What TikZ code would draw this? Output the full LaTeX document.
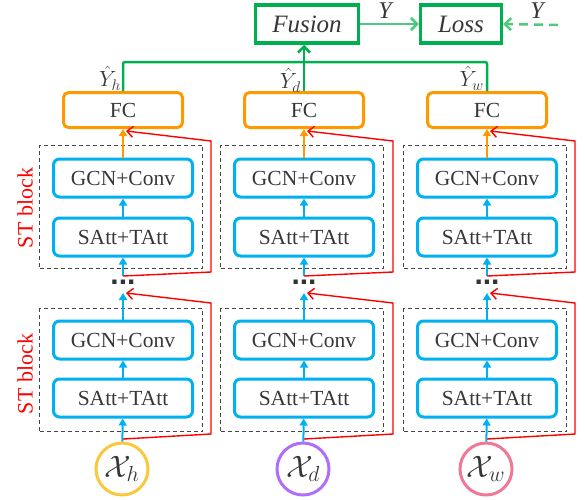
\RequirePackage{fix-cm}
\documentclass[tikz,border=0pt]{standalone}
\usepackage{fontspec}
\setmainfont{Liberation Serif}
\newfontfamily\dotfont{Liberation Sans}
\usetikzlibrary{arrows.meta}
\definecolor{cyanB}{RGB}{0,176,240}
\definecolor{orangeB}{RGB}{255,153,0}
\definecolor{greenB}{RGB}{0,176,80}
\definecolor{lgreen}{RGB}{80,200,125}
\definecolor{redB}{RGB}{255,0,0}
\definecolor{goldc}{RGB}{250,200,60}
\definecolor{purpc}{RGB}{175,110,250}
\definecolor{pinkc}{RGB}{240,120,150}
\definecolor{dashc}{RGB}{70,70,70}
\definecolor{txtc}{RGB}{55,55,55}
\begin{document}
\begin{tikzpicture}[x=1pt,y=-1pt,
  txt/.style={text=txtc, font=\fontsize{21.5}{25}\selectfont},
  blk/.style={draw=cyanB, line width=3pt, rounded corners=6pt, minimum width=139pt, minimum height=38pt, inner sep=0pt, txt},
  fcbox/.style={draw=orangeB, line width=3pt, rounded corners=5pt, minimum width=119pt, minimum height=35pt, inner sep=0pt, txt},
  gbox/.style={draw=greenB, line width=3.5pt, minimum height=38pt, inner sep=0pt, text=txtc, font=\fontsize{25}{30}\selectfont\itshape},
  stbox/.style={draw=dashc, dash pattern=on 4pt off 3pt, line width=0.9pt, minimum width=163pt, minimum height=123pt, inner sep=0pt},
  incirc/.style={circle, line width=3pt, minimum size=52pt, inner sep=0pt, text=txtc, font=\fontsize{31}{34}\selectfont},
  barrow/.style={draw=cyanB, line width=2pt, -{Triangle[length=7pt,width=8pt]}},
  oarrow/.style={draw=orangeB, line width=2pt, -{Triangle[length=7pt,width=8pt]}},
  rarrow/.style={draw=redB, line width=1.4pt, -{Straight Barb[length=6pt,width=11pt]}},
  gline/.style={draw=greenB, line width=2.5pt},
  garrow/.style={draw=greenB, line width=2.5pt, -{Straight Barb[length=6pt,width=12pt]}},
  lgarrow/.style={draw=lgreen, line width=2.5pt, -{Straight Barb[length=6pt,width=12pt]}},
  hatlab/.style={text=txtc, font=\fontsize{22}{24}\selectfont, inner sep=0pt},
  ylab/.style={text=txtc, font=\fontsize{24}{26}\selectfont\itshape, inner sep=0pt},
  stlab/.style={text=redB, rotate=90, font=\fontsize{22}{26}\selectfont},
  dotlab/.style={text=black!80, font=\fontsize{30}{30}\dotfont\bfseries, inner sep=0pt}
]
\useasboundingbox (0,0) rectangle (585,499);

% top
\node[gbox, minimum width=103pt] (fusion) at (307,24) {Fusion};
\node[gbox, minimum width=81pt] (loss) at (461,24) {Loss};

\foreach \c/\x/\rx/\col in {h/123/211/goldc, d/304/393/purpc, w/487/575/pinkc}{
  \node[stbox] (stU\c) at (\x-2,206.5) {};
  \node[stbox] (stL\c) at (\x-2,370) {};
  \node[fcbox] (fc\c) at (\x,110) {FC};
  \node[blk] (gcnU\c) at (\x,178) {GCN+Conv};
  \node[blk] (satU\c) at (\x,237) {SAtt+TAtt};
  \node[blk] (gcnL\c) at (\x,340) {GCN+Conv};
  \node[blk] (satL\c) at (\x,398) {SAtt+TAtt};
  \node[incirc, draw=\col] (in\c) at (\x-1,469) {$\mathcal{X}_{\c}$};
  \node[dotlab] (dots\c) at (\x,282) {...};
  \coordinate (dtop\c) at (\x,276);
  \coordinate (dbot\c) at (\x,293);
  \coordinate (rs\c) at (\x,439);
  \coordinate (rtipL\c) at (\x+3,293);
  \coordinate (rtipU\c) at (\x+3,131);
  \coordinate (rLa\c) at (\rx,434);
  \coordinate (rLb\c) at (\rx,303);
  \coordinate (rUa\c) at (\rx,272);
  \coordinate (rUb\c) at (\rx,141);
  % blue chain
  \draw[barrow] (in\c) -- (satL\c);
  \draw[barrow] (satL\c) -- (gcnL\c);
  \draw[barrow] (gcnL\c) -- (dbot\c);
  \draw[barrow] (dtop\c) -- (satU\c);
  \draw[barrow] (satU\c) -- (gcnU\c);
  \draw[oarrow] (gcnU\c) -- (fc\c);
  % residual
  \draw[rarrow] (rs\c) -- (rLa\c) -- (rLb\c) -- (rtipL\c);
  \draw[rarrow] (dtop\c) -- (rUa\c) -- (rUb\c) -- (rtipU\c);
}

% ST block labels
\node[stlab] (stlabU) at (25,208) {ST block};
\node[stlab] (stlabL) at (25,374) {ST block};

% green connectors
\coordinate (gy) at (0,62);
\draw[gline, rounded corners=2pt] (fch.north) -- (fch.north |- gy) -- (fcw.north |- gy) -- (fcw.north);
\draw[garrow] (fcd.north) -- (fcd.north |- fusion.south);
\node[hatlab, anchor=east] (yh) at (121,78) {$\hat{Y}_h$};
\node[hatlab, anchor=east] (yd) at (301,80) {$\hat{Y}_d$};
\node[hatlab, anchor=east] (yw) at (484,78) {$\hat{Y}_w$};

\draw[lgarrow] (fusion) -- (loss);
\node[ylab] (y1) at (385,11) {Y};
\coordinate (yend) at (558,25);
\draw[lgarrow, dash pattern=on 9pt off 6pt] (yend) -- (loss.east);
\node[ylab] (y2) at (537,11) {Y};
\end{tikzpicture}
\end{document}
